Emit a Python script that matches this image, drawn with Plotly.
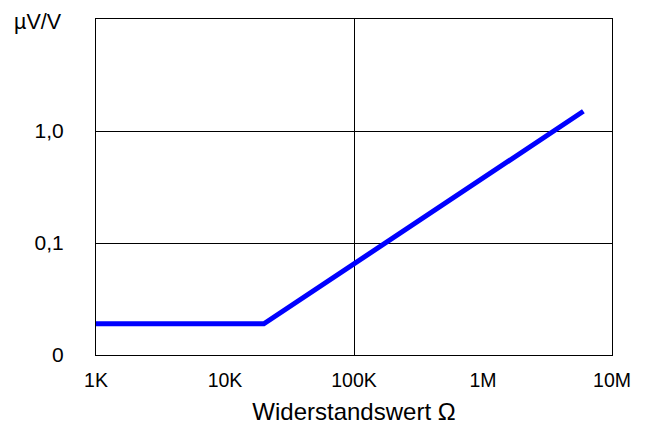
import plotly.graph_objects as go

# Data
resistance = [1e3, 2e4, 6e6]          # Ohm
drift = [0.019, 0.019, 1.5]           # µV/V
x_tickvals = [1e3, 1e4, 1e5, 1e6, 1e7]
x_ticktext = ["1K", "10K", "100K", "1M", "10M"]
x_gridvals = [1e5]
y_tickvals = [0.01, 0.1, 1.0]
y_ticktext = ["0", "0,1", "1,0"]

FONT = "Liberation Sans, Arial, sans-serif"

L, T, PW, PH = 88, 11, 516, 336

fig = go.Figure()
fig.add_trace(go.Scatter(x=resistance, y=drift, mode="lines",
                         line=dict(color="#0000ff", width=5),
                         xaxis="x", yaxis="y", showlegend=False,
                         hoverinfo="skip"))
# invisible copy so the label axis is drawn
fig.add_trace(go.Scatter(x=resistance, y=drift, mode="lines",
                         line=dict(color="rgba(0,0,0,0)", width=0),
                         xaxis="x2", yaxis="y", showlegend=False,
                         hoverinfo="skip"))

fig.update_layout(
    width=646, height=425,
    margin=dict(l=L, r=646 - L - PW, t=T, b=425 - T - PH, autoexpand=False),
    paper_bgcolor="white", plot_bgcolor="white",
    font=dict(family=FONT, size=19.5, color="black"),
    xaxis=dict(type="log", range=[3, 7], tickvals=x_gridvals,
               showticklabels=False, showgrid=True, gridcolor="black",
               gridwidth=1, showline=True, linecolor="black", linewidth=1,
               mirror=True, ticks="", zeroline=False),
    xaxis2=dict(type="log", range=[3, 7], overlaying="x", side="bottom",
                anchor="y",
                tickvals=x_tickvals, ticktext=x_ticktext, showgrid=False,
                ticks="outside", ticklen=8, tickcolor="rgba(0,0,0,0)",
                tickfont=dict(family=FONT, size=19.5),
                showline=False, zeroline=False,
                title=dict(text="Widerstandswert Ω", standoff=12,
                           font=dict(family=FONT, size=24))),
    yaxis=dict(type="log", range=[-2, 1], tickvals=y_tickvals,
               ticktext=y_ticktext, showgrid=True, gridcolor="black",
               gridwidth=1, showline=True, linecolor="black", linewidth=1,
               mirror=True, ticks="outside", ticklen=27,
               tickcolor="rgba(0,0,0,0)", zeroline=False,
               tickfont=dict(family=FONT, size=21)),
    annotations=[dict(text="µV/V", xref="paper", yref="paper",
                      x=(37 - 95) / PW, y=1 + (18 - 21) / PH,
                      xanchor="center", yanchor="middle",
                      showarrow=False, font=dict(family=FONT, size=21.5))],
)

fig.write_html("out.html")
